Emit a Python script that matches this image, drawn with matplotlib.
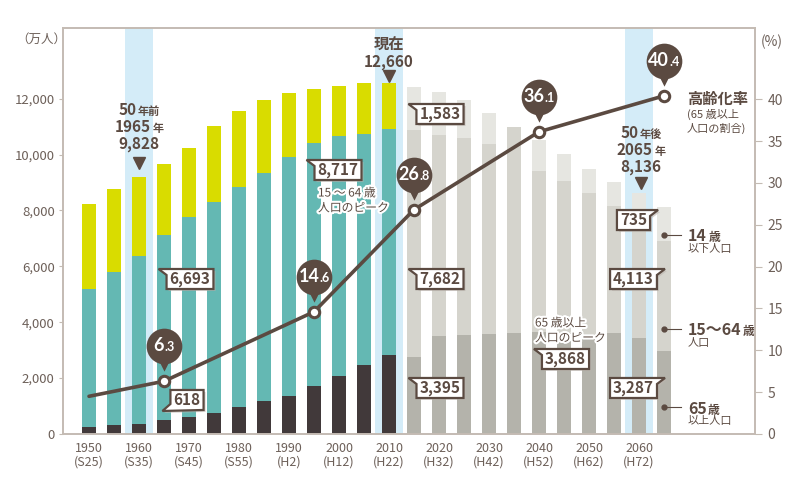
import matplotlib
matplotlib.use("Agg")
import matplotlib.pyplot as plt
import matplotlib.patheffects as pe
from matplotlib.offsetbox import TextArea, HPacker, AnnotationBbox
from matplotlib.patches import Polygon
from matplotlib.transforms import offset_copy, IdentityTransform
from matplotlib.ticker import FuncFormatter

plt.rcParams['font.family'] = ['Noto Sans CJK JP', 'DejaVu Sans']

BROWN = '#5b4a41'
AXIS = '#c4bbb3'
TICK = '#6d6059'

# population by age group (万人)
years = [1950, 1955, 1960, 1965, 1970, 1975, 1980, 1985, 1990, 1995, 2000, 2005,
         2010, 2015, 2020, 2025, 2030, 2035, 2040, 2045, 2050, 2055, 2060, 2065]
elderly = [261, 322, 358, 501, 619, 741, 956, 1181, 1371, 1718, 2087, 2470,
           2827, 2767, 3518, 3543, 3579, 3626, 3650, 3615, 3543, 3626, 3447, 2963]
working = [4929, 5476, 6013, 6621, 7147, 7562, 7884, 8160, 8543, 8697, 8578, 8267,
           8089, 8113, 7183, 7040, 6800, 7372, 5763, 5440, 5072, 4534, 4212, 3955]
young = [3042, 2971, 2827, 2541, 2470, 2720, 2720, 2613, 2290, 1933, 1790, 1826,
         1647, 1528, 1529, 1371, 1099, 0, 1109, 956, 859, 848, 966, 1207]
n_actual = 13  # bars up to 2010 are coloured, the rest are projections

# ageing rate (%)
rate_years = [1950, 1965, 1995, 2015, 2040, 2065]
rate = [4.5, 6.3, 14.6, 26.8, 36.1, 40.4]

highlight_years = [1960, 2010, 2060]
xtick_years = [1950, 1960, 1970, 1980, 1990, 2000, 2010, 2020, 2030, 2040, 2050, 2060]
xtick_labels = ['1950\n(S25)', '1960\n(S35)', '1970\n(S45)', '1980\n(S55)', '1990\n(H2)',
                '2000\n(H12)', '2010\n(H22)', '2020\n(H32)', '2030\n(H42)', '2040\n(H52)',
                '2050\n(H62)', '2060\n(H72)']

# value callouts: (x, y, text, tail corner)
callouts = [
    (2020.2, 11453, '1,583', 'tl'),
    (1999.8, 9449, '8,717', 'tl'),
    (1970.2, 5547, '6,693', 'tl'),
    (1969.6, 1217, '618', 'bl'),
    (2020.2, 5547, '7,682', 'tl'),
    (2020.2, 1646, '3,395', 'tl'),
    (2045.3, 2684, '3,868', 'tl'),
    (2058.9, 5547, '4,113', 'tr'),
    (2058.9, 1646, '3,287', 'tr'),
    (2058.9, 7658, '735', 'tr'),
]

fig = plt.figure(figsize=(8, 4.78), dpi=100)
ax = fig.add_axes([0.07875, 0.0921, 0.865, 0.8493])
ax2 = ax.twinx()

for y in highlight_years:
    ax.axvspan(y - 2.8, y + 2.8, color='#d4ecf8', lw=0, zorder=0)

c_eld = ['#41393a'] * n_actual + ['#b4b3ab'] * (len(years) - n_actual)
c_work = ['#64b8b3'] * n_actual + ['#d5d4cd'] * (len(years) - n_actual)
c_young = ['#d9dc00'] * n_actual + ['#e6e6e1'] * (len(years) - n_actual)
mid = [e + w for e, w in zip(elderly, working)]
ax.bar(years, elderly, width=2.9, color=c_eld, zorder=2)
ax.bar(years, working, width=2.9, bottom=elderly, color=c_work, zorder=2)
ax.bar(years, young, width=2.9, bottom=mid, color=c_young, zorder=2)

ax.set_xlim(1944.8, 2083.2)
ax.set_ylim(0, 14531)
ax2.set_ylim(0, 48.5)

ax.set_yticks([0, 2000, 4000, 6000, 8000, 10000, 12000])
ax.yaxis.set_major_formatter(FuncFormatter(lambda v, p: f'{int(v):,}'))
ax.tick_params(axis='y', length=3, color=AXIS, labelsize=9.5, labelcolor=TICK, pad=3)
ax.set_xticks(xtick_years)
ax.set_xticklabels(xtick_labels, linespacing=1.0)
ax.tick_params(axis='x', length=0, labelsize=9, labelcolor=TICK, pad=6)
ax2.set_yticks([0, 5, 10, 15, 20, 25, 30, 35, 40])
ax2.tick_params(axis='y', length=5, color=AXIS, labelsize=10, labelcolor=TICK, pad=4)
for a in (ax, ax2):
    for s in a.spines.values():
        s.set_color(AXIS)
        s.set_linewidth(1.2)

fig.text(0.051, 0.918, '（万人）', ha='center', va='center', fontsize=9, color=TICK)
fig.text(0.965, 0.912, '(%)', ha='center', va='center', fontsize=10, color=TICK)


def mixed(a, x, y, parts, color=BROWN, align=0.5, trans=None, offset=None,
          sep=1, family=None, zorder=8):
    props = dict(color=color)
    if family:
        props['family'] = family
    boxes = [TextArea(s, textprops=dict(fontsize=fs, fontweight=fw, **props))
             for s, fs, fw in parts]
    pack = HPacker(children=boxes, align='baseline', pad=0, sep=sep)
    if offset is None:
        ab = AnnotationBbox(pack, (x, y), xycoords=trans or a.transData, frameon=False,
                            box_alignment=(align, 0.5), pad=0, zorder=zorder)
    else:
        ab = AnnotationBbox(pack, (x, y), xycoords=trans or a.transData, xybox=offset,
                            boxcoords='offset points', frameon=False,
                            box_alignment=(align, 0.5), pad=0, zorder=zorder)
    a.add_artist(ab)


# ageing rate line with bubbles
ax2.plot(rate_years, rate, color=BROWN, lw=2.6, zorder=4, solid_capstyle='round')
ax2.plot(rate_years[1:], rate[1:], 'o', ms=7.5, mfc='white', mec=BROWN, mew=2.2, zorder=5)
up35 = offset_copy(ax2.transData, fig=fig, x=0, y=35, units='dots')
up15 = offset_copy(ax2.transData, fig=fig, x=0, y=15, units='dots')
ax2.scatter(rate_years[1:], rate[1:], s=660, color=BROWN, transform=up35, zorder=6, lw=0)
ax2.scatter(rate_years[1:], rate[1:], s=55, marker='v', color=BROWN, transform=up15,
            zorder=6, lw=0)
for x, v in zip(rate_years[1:], rate[1:]):
    whole, dec = f'{v:.1f}'.split('.')
    mixed(ax2, x, v, [(whole, 13, 'bold'), ('.' + dec, 9, 'bold')], color='white',
          offset=(0, 25.5), sep=0, family=['Lato', 'DejaVu Sans'], zorder=9)

# highlighted year annotations
for x, lines, ys, tri in [
    (1960, [[('50', 11, 'bold'), ('年前', 8, 'bold')],
            [('1965', 11, 'bold'), ('年', 8, 'bold')],
            [('9,828', 11, 'bold')]], [11580, 10988, 10380], 9700),
    (2010, [[('現在', 11, 'bold')], [('12,660', 11, 'bold')]], [13922, 13314], 12820),
    (2060.4, [[('50', 11, 'bold'), ('年後', 8, 'bold')],
              [('2065', 11, 'bold'), ('年', 8, 'bold')],
              [('8,136', 11, 'bold')]], [10757, 10164, 9556], 9000),
]:
    for parts, y in zip(lines, ys):
        mixed(ax, x, y, parts)
    ax.plot([x], [tri], marker='v', ms=9, color=BROWN, zorder=8)

# small notes
halo = [pe.withStroke(linewidth=3, foreground='white')]
ax.text(1995.8, 8356, '15 ～ 64 歳\n人口のピーク', fontsize=8.5, color=BROWN, va='center',
        linespacing=1.2, path_effects=halo, zorder=8)
ax.text(2039.2, 3704, '65 歳以上\n人口のピーク', fontsize=8.5, color=BROWN, va='center',
        linespacing=1.2, path_effects=halo, zorder=8)
ax2.text(2069.6, 40.0, '高齢化率', fontsize=11, fontweight='bold', color=BROWN,
         va='center', zorder=8)
ax2.text(2069.6, 37.3, '(65 歳以上\n人口の割合)', fontsize=8, color=BROWN,
         va='center', linespacing=1.3, zorder=8)

# legend at right of the last bar
for y, parts, sub in [(7122, [('14', 11.5, 'bold'), ('歳', 8.5, 'bold')], '以下人口'),
                      (3758, [('15～64', 11.5, 'bold'), ('歳', 8.5, 'bold')], '人口'),
                      (948, [('65', 11.5, 'bold'), ('歳', 8.5, 'bold')], '以上人口')]:
    ax.plot([years[-1], years[-1] + 3.4], [y, y], color=BROWN, lw=0.8, zorder=8)
    ax.plot([years[-1]], [y], 'o', ms=3.5, color=BROWN, zorder=8)
    mixed(ax, years[-1] + 4.8, y - 40, parts, align=0.0)
    ax.text(years[-1] + 4.8, y - 500, sub, fontsize=8, color=BROWN, va='center', zorder=8)

# value callouts (boxes are drawn after layout, around the text)
texts = []
for x, y, s, tail in callouts:
    t = ax2.text(x, y, s, transform=ax.transData, ha='center', va='center', fontsize=11,
                 fontweight='bold', color=BROWN, zorder=11)
    texts.append((t, tail))

fig.canvas.draw()
r = fig.canvas.get_renderer()
for t, tail in texts:
    bb = t.get_window_extent(r)
    x0, x1 = bb.x0 - 3, bb.x1 + 3
    cy = (bb.y0 + bb.y1) / 2
    y0, y1 = cy - 10, cy + 10
    if tail == 'tl':
        pts = [(x0, y0), (x1, y0), (x1, y1), (x0 - 8, y1), (x0, y1 - 6)]
    elif tail == 'tr':
        pts = [(x0, y0), (x1, y0), (x1, y1 - 6), (x1 + 8, y1), (x0, y1)]
    else:
        pts = [(x0, y0 + 6), (x0 - 8, y0 - 1), (x1, y0), (x1, y1), (x0, y1)]
    shadow = [(px + 2, py - 2) for px, py in pts]
    ax2.add_patch(Polygon(shadow, closed=True, transform=IdentityTransform(),
                          fc='#bdb6b0', ec='none', alpha=0.6, zorder=9))
    ax2.add_patch(Polygon(pts, closed=True, transform=IdentityTransform(),
                          fc='white', ec=BROWN, lw=1.6, zorder=10, joinstyle='miter'))

fig.savefig('out.png', dpi=100)
